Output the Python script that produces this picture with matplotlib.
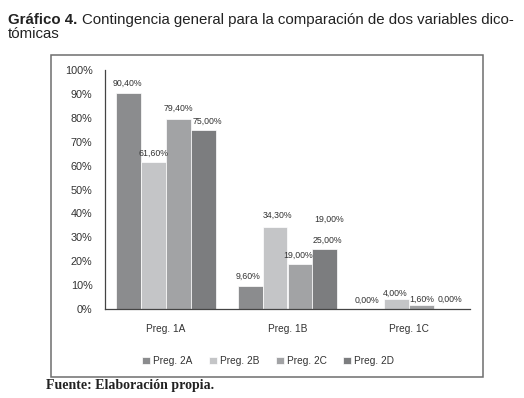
import matplotlib
matplotlib.use("Agg")
import matplotlib.pyplot as plt
from matplotlib.patches import Rectangle
from matplotlib import font_manager
import numpy as np

categories = ["Preg. 1A", "Preg. 1B", "Preg. 1C"]
series_names = ["Preg. 2A", "Preg. 2B", "Preg. 2C", "Preg. 2D"]
preg_2a = [90.4, 9.6, 0.0]
preg_2b = [61.6, 34.3, 4.0]
preg_2c = [79.4, 19.0, 1.6]
preg_2d = [75.0, 25.0, 0.0]
yticks = [0, 10, 20, 30, 40, 50, 60, 70, 80, 90, 100]
extra_label = "19,00%"

colors = ["#8b8c8e", "#c4c5c7", "#a2a3a5", "#7c7d7f"]

names = {f.name for f in font_manager.fontManager.ttflist}
narrow = "Liberation Sans Narrow" if "Liberation Sans Narrow" in names else "Liberation Sans"
plt.rcParams['font.family'] = [narrow, 'DejaVu Sans']

fig = plt.figure(figsize=(5.24, 3.98), dpi=100)
ax = fig.add_axes([105/524, 1-309/398, (470-105)/524, (309-70)/398])

# outer chart frame
fig.patches.append(Rectangle((51/524, 1-377/398), (483-51)/524, (377-55)/398,
                             transform=fig.transFigure, fill=False,
                             edgecolor="#6e6e6e", linewidth=1.1, zorder=0))

series = [preg_2a, preg_2b, preg_2c, preg_2d]
x = np.arange(len(categories))
bw = 0.205
for i, (vals, c, n) in enumerate(zip(series, colors, series_names)):
    ax.bar(x + (i - 1.5) * bw, vals, width=bw, color=c, label=n,
           edgecolor="white", linewidth=0.5)

# label offsets (points) per (series, category) - style only
offsets = {
    (0, 0): (-1, 4), (1, 0): (0, 3), (2, 0): (0, 4.5), (3, 0): (3, 3),
    (0, 1): (-1.5, 4), (1, 1): (1.5, 5), (2, 1): (-1.5, 3), (3, 1): (1.5, 3.5),
    (0, 2): (-3.3, 3), (1, 2): (-1, 1.5), (2, 2): (0, 1), (3, 2): (2.2, 3.5),
}
def fmt(v):
    return f"{v:.2f}".replace(".", ",") + "%"

for i, vals in enumerate(series):
    for j, v in enumerate(vals):
        dx, dy = offsets[(i, j)]
        ax.annotate(fmt(v), (x[j] + (i - 1.5) * bw, v), xytext=(dx, dy),
                    textcoords="offset points", ha="center", va="bottom",
                    fontsize=6.3, color="#333333")
# duplicated label present in the original
ax.annotate(extra_label, (x[1] + 1.5 * bw, preg_2d[1]), xytext=(3, 18),
            textcoords="offset points", ha="center", va="bottom",
            fontsize=6.3, color="#333333")

ax.set_xlim(-0.5, 2.5)
ax.set_ylim(0, 100)
ax.set_yticks(yticks)
ax.set_yticklabels([f"{t}%" for t in yticks], fontsize=7.8, color="#333333")
ax.set_xticks(x)
ax.set_xticklabels(categories, fontsize=7.3, color="#333333")
ax.tick_params(axis="y", length=0, pad=9)
ax.tick_params(axis="x", length=0, pad=10.5)
for s in ["top", "right"]:
    ax.spines[s].set_visible(False)
for s in ["left", "bottom"]:
    ax.spines[s].set_color("#444444")
    ax.spines[s].set_linewidth(0.9)

leg = fig.legend(loc="center", bbox_to_anchor=(268/524, 1-361/398), ncol=4,
                 frameon=False, fontsize=7.3, handlelength=0.8, handleheight=0.8,
                 handletextpad=0.3, columnspacing=1.6)
for t in leg.get_texts():
    t.set_color("#333333")

# title
fs_title = 10.8
fig.text(8/524, 1-20/398, "Gráfico 4.", fontsize=fs_title, fontweight="bold",
         family="Liberation Sans", va="center", ha="left", color="#222222")
fig.text(82/524, 1-20/398, "Contingencia general para la comparación de dos variables dico-",
         fontsize=fs_title, family="Liberation Sans", va="center", ha="left", color="#222222")
fig.text(8/524, 1-34/398, "tómicas", fontsize=fs_title, family="Liberation Sans",
         va="center", ha="left", color="#222222")
fig.text(46/524, 1-386/398, "Fuente: Elaboración propia.", fontsize=10,
         fontweight="bold", family="Liberation Serif", va="center", ha="left",
         color="#222222")

fig.savefig("out.png", dpi=100)
